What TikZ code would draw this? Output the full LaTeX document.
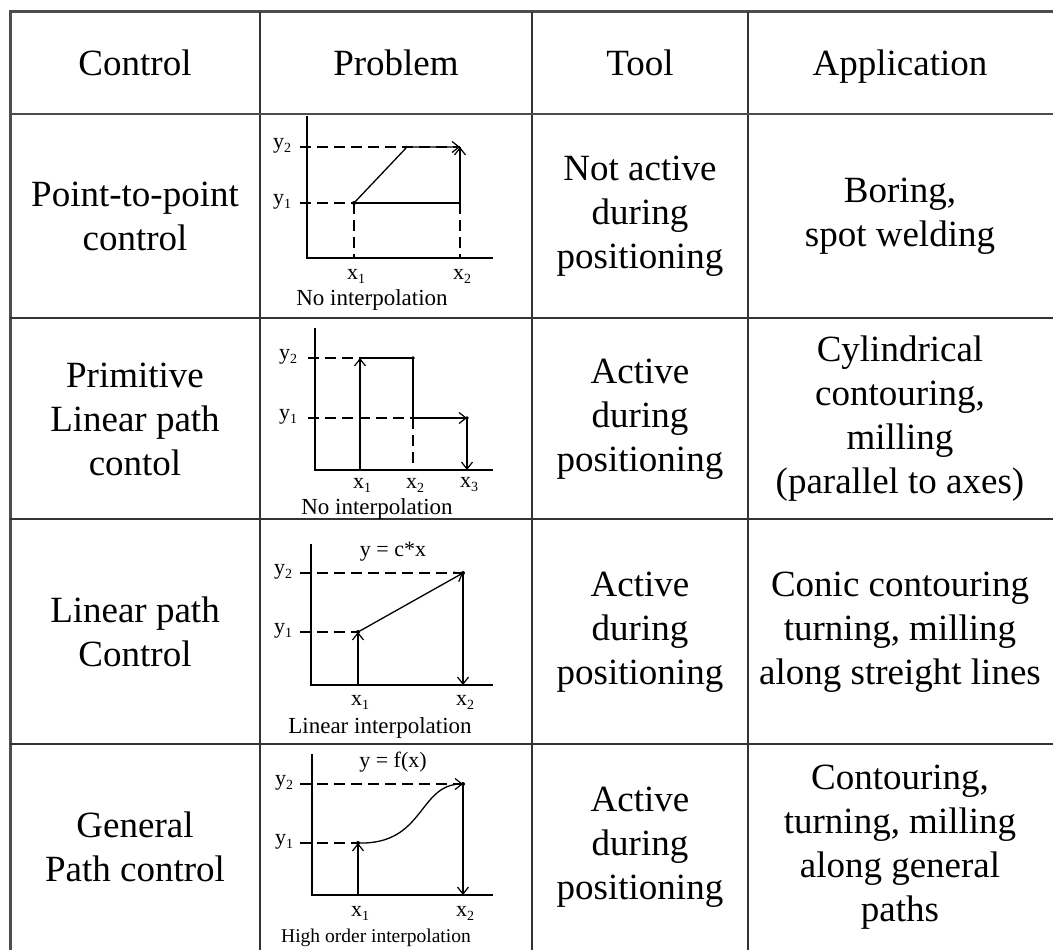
\documentclass[tikz,border=0pt]{standalone}
\usepackage{fontspec}
\setmainfont{Liberation Serif}
\usetikzlibrary{arrows.meta}
\newcommand{\sbx}[2]{#1\raisebox{-4pt}{\fontsize{14}{14}\selectfont #2}}
\begin{document}
\begin{tikzpicture}[x=1pt,y=-1pt,
  grid/.style={line width=1.6pt,black!80},
  cell/.style={align=center,font=\fontsize{37}{44}\selectfont,inner sep=0pt},
  headcell/.style={cell,anchor=base},
  axis/.style={line width=1.4pt},
  guide/.style={line width=1.3pt,dash pattern=on 11pt off 6pt},
  thickdash/.style={line width=2.4pt,dash pattern=on 11pt off 6pt},
  pathln/.style={line width=1.3pt},
  arr/.style={pathln,-{Straight Barb[length=7pt,width=11pt,line width=1.2pt]}},
  lbl/.style={font=\fontsize{22}{22}\selectfont,inner sep=0pt},
  captext/.style={font=\fontsize{23}{23}\selectfont,inner sep=0pt},
  capsmall/.style={font=\fontsize{19.5}{19.5}\selectfont,inner sep=0pt}]
\useasboundingbox (0,0) rectangle (1053,950);
% table grid
\draw[line width=3pt,black!70] (10,950) -- (10,12) -- (1053,12);
\draw[grid] (260,12) -- (260,950);
\draw[grid] (532,12) -- (532,950);
\draw[grid] (748,12) -- (748,950);
\draw[line width=2.4pt,black!70] (10,114) -- (1053,114);
\draw[grid] (10,318) -- (1053,318);
\draw[grid] (10,519) -- (1053,519);
\draw[grid] (10,744) -- (1053,744);
% header
\node[headcell] (h1) at (135,76) {Control};
\node[headcell] (h2) at (396,76) {Problem};
\node[headcell] (h3) at (640,76) {Tool};
\node[headcell] (h4) at (900,76) {Application};
% column 1
\node[cell] (c11) at (135,216) {Point-to-point\\control};
\node[cell] (c12) at (135,419) {Primitive\\Linear path\\contol};
\node[cell] (c13) at (135,632) {Linear path\\Control};
\node[cell] (c14) at (135,847) {General\\Path control};
% column 3
\node[cell] (c31) at (640,216) {Not active\\during\\positioning};
\node[cell] (c32) at (640,419) {Active\\during\\positioning};
\node[cell] (c33) at (640,632) {Active\\during\\positioning};
\node[cell] (c34) at (640,847) {Active\\during\\positioning};
% column 4
\node[cell] (c41) at (900,216) {Boring,\\spot welding};
\node[cell] (c42) at (900,419) {Cylindrical\\contouring,\\milling\\(parallel to axes)};
\node[cell] (c43) at (900,632) {Conic contouring\\turning, milling\\along streight lines};
\node[cell] (c44) at (900,847) {Contouring,\\turning, milling\\along general\\paths};

% ---------- diagram 1 ----------
\coordinate (aO) at (307,258); \coordinate (aT) at (307,116); \coordinate (aE) at (493,258);
\coordinate (aY2) at (300,147); \coordinate (aY1) at (300,203);
\coordinate (aP1) at (354,203); \coordinate (aK) at (407,147); \coordinate (aP2) at (460,147);
\coordinate (aQ) at (460,203); \coordinate (aX1) at (354,258); \coordinate (aX2) at (460,258);
\draw[axis] (aT) -- (aO) -- (aE);
\draw[guide] (aY2) -- (aP2);
\draw[guide] (aY1) -- (aP1);
\draw[guide] (aP1) -- (aX1);
\draw[guide] (aQ) -- (aX2);
\draw[pathln] (aP1) -- (aQ);
\draw[thickdash] (aP1) -- (aQ);
\draw[arr] (aQ) -- (aP2);
\draw[thickdash] (aQ) -- (aP2);
\draw[arr] (aP1) -- (aK) -- (aP2);
\fill (aP1) circle (2pt);
\node[lbl] (ay2) at (282,146) {\sbx{y}{2}};
\node[lbl] (ay1) at (282,202) {\sbx{y}{1}};
\node[lbl] (ax1) at (356,276) {\sbx{x}{1}};
\node[lbl] (ax2) at (462,276) {\sbx{x}{2}};
\node[captext] (acap) at (372,300) {No interpolation};

% ---------- diagram 2 ----------
\coordinate (bO) at (315,470); \coordinate (bT) at (315,328); \coordinate (bE) at (493,470);
\coordinate (bY2) at (308,358); \coordinate (bY1) at (308,418);
\coordinate (bX1) at (360,470); \coordinate (bA) at (360,358);
\coordinate (bB) at (413,358); \coordinate (bC) at (413,418); \coordinate (bX2) at (413,470);
\coordinate (bD) at (467,418); \coordinate (bX3) at (467,470);
\draw[axis] (bT) -- (bO) -- (bE);
\draw[guide] (bY2) -- (bB);
\draw[guide] (bY1) -- (bD);
\draw[guide] (bC) -- (bX2);
\draw[arr] (bX1) -- (bA);
\draw[thickdash] (bX1) -- (bA);
\draw[pathln] (bA) -- (bB) -- (bC);
\draw[thickdash] (bB) -- (bC);
\draw[arr] (bC) -- (bD);
\draw[arr] (bD) -- (bX3);
\draw[thickdash] (bD) -- (bX3);
\fill (bB) circle (1.8pt);
\fill (bD) circle (1.8pt);
\node[lbl] (by2) at (288,357) {\sbx{y}{2}};
\node[lbl] (by1) at (288,417) {\sbx{y}{1}};
\node[lbl] (bx1) at (362,485) {\sbx{x}{1}};
\node[lbl] (bx2) at (415,485) {\sbx{x}{2}};
\node[lbl] (bx3) at (469,485) {\sbx{x}{3}};
\node[captext] (bcap) at (377,509) {No interpolation};

% ---------- diagram 3 ----------
\coordinate (cO) at (311,685); \coordinate (cT) at (311,544); \coordinate (cE) at (493,685);
\coordinate (cY2) at (300,573); \coordinate (cY1) at (300,632);
\coordinate (cX1) at (358,685); \coordinate (cP1) at (358,632);
\coordinate (cP2) at (463,573); \coordinate (cX2) at (463,685);
\draw[axis] (cT) -- (cO) -- (cE);
\draw[guide] (cY2) -- (cP2);
\draw[guide] (cY1) -- (cP1);
\draw[arr] (cX1) -- (cP1);
\draw[arr] (cP1) -- (cP2);
\draw[arr] (cP2) -- (cX2);
\fill (cP1) circle (2pt);
\fill (cP2) circle (2pt);
\node[lbl] (cf) at (393,552) {y = c*x};
\node[lbl] (cy2) at (283,572) {\sbx{y}{2}};
\node[lbl] (cy1) at (283,631) {\sbx{y}{1}};
\node[lbl] (cx1) at (360,702) {\sbx{x}{1}};
\node[lbl] (cx2) at (465,702) {\sbx{x}{2}};
\node[captext] (ccap) at (380,728) {Linear interpolation};

% ---------- diagram 4 ----------
\coordinate (dO) at (312,895); \coordinate (dT) at (312,754); \coordinate (dE) at (493,895);
\coordinate (dY2) at (300,784); \coordinate (dY1) at (300,843);
\coordinate (dX1) at (358,895); \coordinate (dP1) at (358,843);
\coordinate (dP2) at (463,784); \coordinate (dX2) at (463,895);
\coordinate (dc1) at (425,845); \coordinate (dc2) at (418,784);
\draw[axis] (dT) -- (dO) -- (dE);
\draw[guide] (dY2) -- (dP2);
\draw[guide] (dY1) -- (dP1);
\draw[arr] (dX1) -- (dP1);
\draw[arr] (dP1) .. controls (dc1) and (dc2) .. (dP2);
\draw[arr] (dP2) -- (dX2);
\fill (dP1) circle (2pt);
\fill (dP2) circle (2pt);
\node[lbl] (df) at (393,762) {y = f(x)};
\node[lbl] (dy2) at (284,783) {\sbx{y}{2}};
\node[lbl] (dy1) at (284,842) {\sbx{y}{1}};
\node[lbl] (dx1) at (360,913) {\sbx{x}{1}};
\node[lbl] (dx2) at (465,913) {\sbx{x}{2}};
\node[capsmall] (dcap) at (376,938) {High order interpolation};
\end{tikzpicture}
\end{document}
